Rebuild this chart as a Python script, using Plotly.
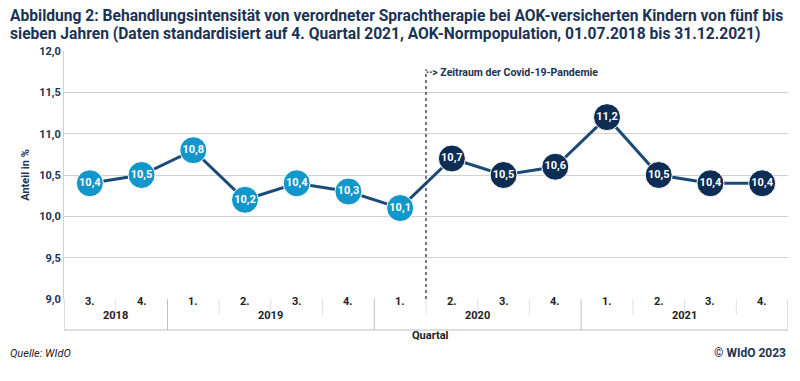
import plotly.graph_objects as go

quarters = ["3.", "4.", "1.", "2.", "3.", "4.", "1.", "2.", "3.", "4.", "1.", "2.", "3.", "4."]
years = ["2018", "2018", "2019", "2019", "2019", "2019", "2020", "2020", "2020", "2020", "2021", "2021", "2021", "2021"]
values = [10.4, 10.5, 10.8, 10.2, 10.4, 10.3, 10.1, 10.7, 10.5, 10.6, 11.2, 10.5, 10.4, 10.4]
labels = ["10,4", "10,5", "10,8", "10,2", "10,4", "10,3", "10,1", "10,7", "10,5", "10,6", "11,2", "10,5", "10,4", "10,4"]
pandemic_start = 7  # index of first pandemic quarter (2. Quartal 2020)
y_ticks = [9.0, 9.5, 10.0, 10.5, 11.0, 11.5, 12.0]
title_lines = [
    "Abbildung 2: Behandlungsintensität von verordneter Sprachtherapie bei AOK-versicherten Kindern von fünf bis",
    "sieben Jahren (Daten standardisiert auf 4. Quartal 2021, AOK-Normpopulation, 01.07.2018 bis 31.12.2021)",
]

LIGHT = "#1396c9"
DARK = "#0e2d52"
LINE = "#1c4a78"
NAVY = "#1b3354"
GRID = "#d0d0d0"
FONT = "Roboto, Arial, sans-serif"

x = list(range(len(values)))
colors = [LIGHT if i < pandemic_start else DARK for i in x]

fig = go.Figure()
fig.add_trace(go.Scatter(
    x=x, y=values, mode="lines+markers+text",
    line=dict(color=LINE, width=3),
    marker=dict(size=27, color=colors, line=dict(color="white", width=1)),
    text=labels, textposition="middle center",
    textfont=dict(color="white", size=11, family=FONT, weight="bold"),
    hoverinfo="skip", showlegend=False, cliponaxis=False,
))

shapes = []
annotations = []
n = len(values)
border = dict(color="#bfbfbf", width=1)
# table outline
shapes.append(dict(type="line", xref="x", yref="paper", x0=-0.5, x1=n - 0.5, y0=-0.125, y1=-0.125, line=border))
shapes.append(dict(type="line", xref="x", yref="paper", x0=-0.5, x1=-0.5, y0=0, y1=-0.125, line=border))
shapes.append(dict(type="line", xref="x", yref="paper", x0=n - 0.5, x1=n - 0.5, y0=0, y1=-0.125, line=border))
# separators
for i in range(1, n):
    if years[i] != years[i - 1]:
        shapes.append(dict(type="line", xref="x", yref="paper", x0=i - 0.5, x1=i - 0.5, y0=0, y1=-0.125, line=border))
    else:
        shapes.append(dict(type="line", xref="x", yref="paper", x0=i - 0.5, x1=i - 0.5, y0=0, y1=-0.065, line=dict(color="#e0e0e0", width=1)))
for i, q in enumerate(quarters):
    annotations.append(dict(x=i, y=-0.044, xref="x", yref="paper", text=q, showarrow=False,
                            font=dict(size=11, color="#222222", family=FONT, weight="bold")))
uniq = []
for yv in years:
    if yv not in uniq:
        uniq.append(yv)
for yv in uniq:
    idx = [i for i, v in enumerate(years) if v == yv]
    annotations.append(dict(x=(idx[0] + idx[-1]) / 2, y=-0.101, xref="x", yref="paper", text=yv, showarrow=False,
                            font=dict(size=11, color="#222222", family=FONT, weight="bold")))

# pandemic line
shapes.append(dict(type="line", xref="x", yref="y", x0=pandemic_start - 0.5, x1=pandemic_start - 0.5,
                   y0=9.0, y1=11.78, line=dict(color=NAVY, width=1.3, dash="dot")))
annotations.append(dict(x=pandemic_start - 0.5, y=11.745, xref="x", yref="y", xanchor="left",
                        text="··> Zeitraum der Covid-19-Pandemie", showarrow=False, xshift=-2,
                        font=dict(size=10.5, color=NAVY, family=FONT, weight="bold")))

annotations.append(dict(x=0.506, y=-0.18, xref="paper", yref="paper", text="Quartal", showarrow=False,
                        font=dict(size=11, color="#222222", family=FONT, weight="bold")))
annotations.append(dict(x=-0.0773, y=-0.254, xref="paper", yref="paper", xanchor="left", text="<i>Quelle: WIdO</i>",
                        showarrow=False, font=dict(size=11, color="#222222", family=FONT)))
annotations.append(dict(x=1.0, y=-0.254, xref="paper", yref="paper", xanchor="right", text="© WIdO 2023",
                        showarrow=False, font=dict(size=12, color=NAVY, family=FONT, weight="bold")))
# title, one annotation per line for tighter spacing
for line_text, ypos in zip(title_lines, [1.141, 1.069]):
    annotations.append(dict(x=-0.0773, y=ypos, xref="paper", yref="paper", xanchor="left", yanchor="middle",
                            align="left", text=line_text, showarrow=False,
                            font=dict(size=15.6, color=NAVY, family=FONT, weight="bold")))

# page body has an 8px margin, so the figure is sized and offset to compensate
fig.update_layout(
    width=792, height=373,
    margin=dict(l=56, r=12, t=43, b=82, autoexpand=False),
    paper_bgcolor="white", plot_bgcolor="white",
    separators=",.",
    xaxis=dict(range=[-0.5, n - 0.5], showticklabels=False, showgrid=False, zeroline=False,
               showline=False, fixedrange=True, automargin=False),
    yaxis=dict(range=[9.0, 12.0], tickvals=y_ticks, tickformat=".1f", showgrid=True, gridcolor=GRID,
               zeroline=False, showline=True, linecolor=GRID, ticks="", ticklen=0, automargin=False,
               tickfont=dict(size=11, color=NAVY, family=FONT, weight="bold"),
               title=dict(text="Anteil in %", standoff=7, font=dict(size=11, color=NAVY, family=FONT, weight="bold"))),
    shapes=shapes, annotations=annotations,
)
fig.write_html("out.html")
